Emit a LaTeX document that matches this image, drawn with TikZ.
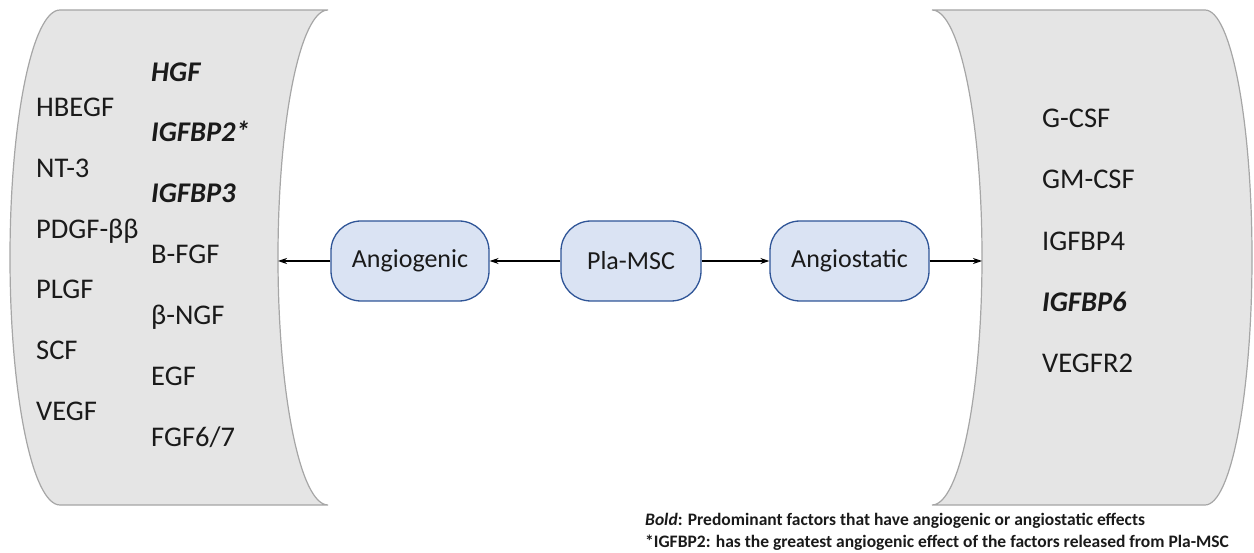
\documentclass[tikz,border=0pt]{standalone}
\usepackage{fontspec}
\setmainfont{Carlito}
\usetikzlibrary{arrows.meta}
\definecolor{shapefill}{HTML}{E5E5E5}
\definecolor{shapeline}{HTML}{A6A6A6}
\definecolor{boxfill}{HTML}{DAE3F3}
\definecolor{boxline}{HTML}{2F5597}
\definecolor{txt}{HTML}{1A1A1A}
\tikzset{
  panel/.style={fill=shapefill,draw=shapeline,line width=1.2pt},
  item/.style={anchor=west,inner sep=0pt,text=txt,font=\fontsize{28.5}{32}\selectfont,text height=0.64em,text depth=0pt},
  bitem/.style={item,font=\fontsize{28.5}{32}\selectfont\bfseries\itshape},
  pill/.style={draw=boxline,fill=boxfill,line width=1.3pt,rounded corners=30pt,minimum height=80pt,inner sep=0pt,text=txt,font=\fontsize{26}{30}\selectfont},
  conn/.style={-{Stealth[length=9pt,width=6pt]},line width=1.2pt,black},
  legend/.style={anchor=west,inner sep=0pt,text=txt,font=\fontsize{17.5}{20}\selectfont\bfseries}
}
\begin{document}
\begin{tikzpicture}[x=1pt,y=-1pt]
\useasboundingbox (0,0) rectangle (1254,553);
% left panel
\path[panel] (60,10) -- (328,10)
  arc[start angle=270,end angle=90,x radius=50,y radius=247.5]
  -- (60,505)
  arc[start angle=90,end angle=270,x radius=50,y radius=247.5] -- cycle;
% right panel
\path[panel] (932,10) -- (1205,10)
  arc[start angle=-90,end angle=90,x radius=47,y radius=247.5]
  -- (932,505)
  arc[start angle=90,end angle=-90,x radius=50,y radius=247.5] -- cycle;
\coordinate (lp) at (278,261);
\coordinate (rp) at (982,261);
% left column
\node[item] (hbegf) at (36,113) {HBEGF};
\node[item] (nt3) at (36,174) {NT-3};
\node[item] (pdgf) at (36,235) {PDGF-ββ};
\node[item] (plgf) at (36,295) {PLGF};
\node[item] (scf) at (36,356) {SCF};
\node[item] (vegf) at (36,417) {VEGF};
% second column
\node[bitem] (hgf) at (151,78) {HGF};
\node[bitem] (igfbp2) at (151,138) {IGFBP2*};
\node[bitem] (igfbp3) at (151,199) {IGFBP3};
\node[item] (bfgf) at (151,260) {B-FGF};
\node[item] (bngf) at (151,321) {β-NGF};
\node[item] (egf) at (151,382) {EGF};
\node[item] (fgf67) at (151,443) {FGF6/7};
% right column
\node[item] (gcsf) at (1042,124) {G-CSF};
\node[item] (gmcsf) at (1042,185) {GM-CSF};
\node[item] (igfbp4) at (1042,247) {IGFBP4};
\node[bitem] (igfbp6) at (1042,308) {IGFBP6};
\node[item] (vegfr2) at (1042,369) {VEGFR2};
% boxes
\node[pill,minimum width=158pt] (angio) at (410,261) {Angiogenic};
\node[pill,minimum width=140pt] (pla) at (631,261) {Pla-MSC};
\node[pill,minimum width=159pt] (stat) at (849.5,261) {Angiostatic};
% connectors
\draw[conn] (angio.west) -- (lp);
\draw[conn] (pla.west) -- (angio.east);
\draw[conn] (pla.east) -- (stat.west);
\draw[conn] (stat.east) -- (rp);
% legend
\node[legend] (leg1) at (645,521) {\textit{Bold}: Predominant factors that have angiogenic or angiostatic effects};
\node[legend] (leg2) at (645,543) {*IGFBP2: has the greatest angiogenic effect of the factors released from Pla-MSC};
\end{tikzpicture}
\end{document}
